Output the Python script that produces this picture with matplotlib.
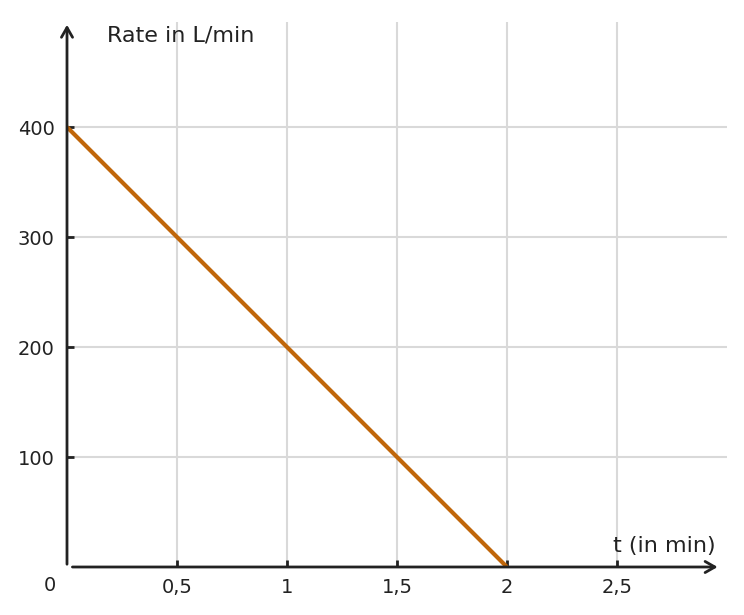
import numpy as np
import matplotlib.pyplot as plt

# data: flow rate drops linearly from 400 L/min to 0 over 2 minutes
t_vals = [0, 2]
rate_vals = [400, 0]

x_ticks = [0.5, 1, 1.5, 2, 2.5]
x_labels = ["0,5", "1", "1,5", "2", "2,5"]
y_ticks = [100, 200, 300, 400]
y_labels = ["100", "200", "300", "400"]

W, H = 744, 615
fig = plt.figure(figsize=(W / 100, H / 100), dpi=100)
ax = fig.add_axes([67 / W, (H - 567) / H, 660 / W, 545 / H])
ax.set_xlim(0, 3.0)
ax.set_ylim(0, 495.5)

for s in ax.spines.values():
    s.set_visible(False)

grid_col = "#d9d9d9"
for xv in x_ticks:
    ax.axvline(xv, color=grid_col, lw=1.5, zorder=1)
for yv in y_ticks:
    ax.axhline(yv, color=grid_col, lw=1.5, zorder=1)

ax.plot(t_vals, rate_vals, color="#c0660a", lw=3, solid_capstyle="butt", zorder=3)

axis_col = "#222222"
ax.annotate("", xy=(0.99, 0), xytext=(0.004, 0), xycoords="axes fraction",
            arrowprops=dict(arrowstyle="->,head_length=0.7,head_width=0.4", color=axis_col, lw=2))
ax.annotate("", xy=(0, 1.0), xytext=(0, 0), xycoords="axes fraction",
            arrowprops=dict(arrowstyle="->,head_length=0.7,head_width=0.4", color=axis_col, lw=2))

ax.set_xticks(x_ticks)
ax.set_xticklabels(x_labels)
ax.set_yticks(y_ticks)
ax.set_yticklabels(y_labels)
ax.tick_params(axis="both", direction="in", length=5, width=2, color=axis_col,
               labelsize=14, labelcolor="#222222", pad=8)
ax.tick_params(axis="y", pad=9)

ax.text(-0.077, -16.4, "0", ha="center", va="center", fontsize=14, color="#222222")
ax.text(2.95, 10, "t (in min)", ha="right", va="bottom", fontsize=16, color="#222222")
ax.text(0.182, 483.6, "Rate in L/min", ha="left", va="center", fontsize=16, color="#222222")

fig.savefig("out.png", dpi=100)
